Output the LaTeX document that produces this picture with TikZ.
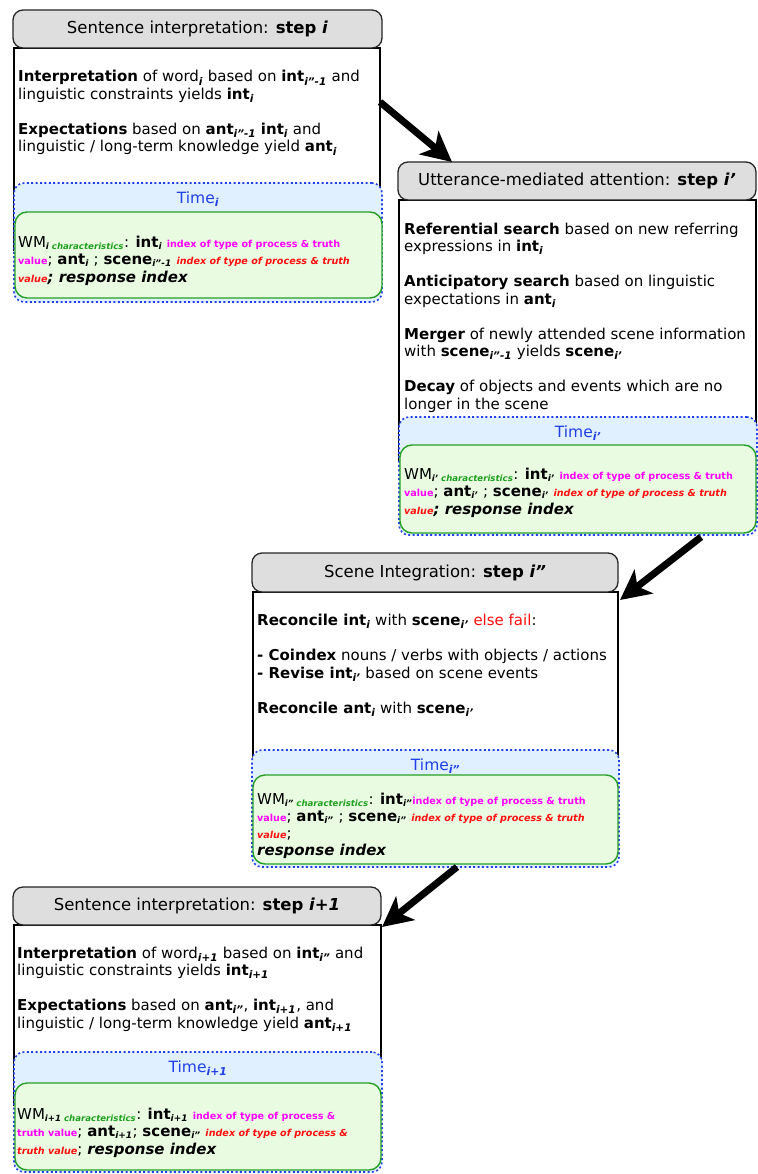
\documentclass[tikz,border=0pt]{standalone}
\usepackage{fontspec}
\setmainfont{DejaVu Sans}
\usetikzlibrary{arrows.meta,calc}

\definecolor{hdrgray}{HTML}{DEDEDE}
\definecolor{timeblue}{HTML}{2040E8}
\definecolor{timefill}{HTML}{E0F0FF}
\definecolor{wmgreen}{HTML}{25A025}
\definecolor{wmfill}{HTML}{E9FCE1}
\definecolor{magx}{HTML}{FF00FF}
\definecolor{redx}{HTML}{FF1010}
\definecolor{chargreen}{HTML}{20A020}

% subscripts and coloured annotations
\newcommand\sbs[1]{\textsubscript{\bfseries\itshape #1}}
\newcommand\wsb[1]{\textsubscript{\fontsize{9}{10}\selectfont\bfseries\itshape #1}}
\newcommand\wmsub[1]{\textsubscript{\fontsize{8.6}{10}\selectfont\bfseries\itshape #1 {\color{chargreen}characteristics}}}
\newcommand\magtxt[1]{{\fontsize{9.6}{10}\selectfont\bfseries\color{magx}#1}}
\newcommand\redtxt[1]{{\fontsize{9.6}{10}\selectfont\bfseries\itshape\color{redx}#1}}

\tikzset{
  x=1pt, y=-1pt,
  hdr/.style={draw=black!85, line width=1.3pt, fill=hdrgray, rounded corners=10pt,
    inner sep=0, outer sep=0, anchor=north west, font=\fontsize{16.5}{19}\selectfont},
  body/.style={draw=black, line width=1.2pt, fill=white, inner sep=0, outer sep=0, anchor=north west},
  timebox/.style={draw=timeblue, dash pattern=on 2pt off 2.4pt, line width=1.6pt, fill=timefill,
    rounded corners=10pt, inner sep=0, outer sep=0, anchor=north west},
  wmbox/.style={draw=wmgreen, line width=1.4pt, fill=wmfill, rounded corners=12pt,
    inner sep=0, outer sep=0, anchor=north west},
  % multi-line texts are placed by the baseline of their last line
  para/.style={anchor=base west, align=left, inner sep=0, font=\fontsize{15}{17.5}\selectfont},
  wmtext/.style={anchor=base west, align=left, inner sep=0, font=\fontsize{15}{17.5}\selectfont},
  timelbl/.style={text=timeblue, font=\fontsize{15.5}{17}\selectfont, inner sep=0},
  flow/.style={line width=7pt, -{Stealth[length=30pt,width=30pt,inset=8pt]}}
}

\begin{document}
\begin{tikzpicture}
\useasboundingbox (0,0) rectangle (757,1174);

% ---------- step i ----------
\node[body, minimum width=366, minimum height=202] (b1) at (14,48) {};
\node[hdr, minimum width=369, minimum height=38] (h1) at (13,10) {Sentence interpretation: \textbf{step \textit{i}}};
\node[timebox, minimum width=368, minimum height=119] (t1) at (14,183) {};
\node[wmbox, minimum width=367, minimum height=86] (w1) at (15,212) {};
\node[timelbl] (tl1) at ($(t1.north)+(0,16)$) {Time\sbs{i}};
\node[para] (p1) at (18,152) {\textbf{Interpretation} of word\sbs{i} based on \textbf{int}\sbs{i”-1} and\\
linguistic constraints yields \textbf{int}\sbs{i}\\[17.5pt]
\textbf{Expectations} based on \textbf{ant}\sbs{i”-1} \textbf{int}\sbs{i} and\\
linguistic / long-term knowledge yield \textbf{ant}\sbs{i}};
\node[wmtext] (m1) at (18,282) {WM\wmsub{i}: \textbf{int}\wsb{i} \magtxt{index of type of process \& truth}\\
\magtxt{value}; \textbf{ant}\wsb{i} ; \textbf{scene}\wsb{i”-1} \redtxt{index of type of process \& truth}\\
\redtxt{value}\textbf{\textit{; response index}}};

% ---------- step i' ----------
\node[body, minimum width=357, minimum height=260] (b2) at (399,200) {};
\node[hdr, minimum width=358, minimum height=38] (h2) at (398,162) {Utterance-mediated attention: \textbf{step \textit{i’}}};
\node[timebox, minimum width=358, minimum height=118] (t2) at (399,417) {};
\node[wmbox, minimum width=356, minimum height=88] (w2) at (400,445) {};
\node[timelbl] (tl2) at ($(t2.north)+(0,16)$) {Time\sbs{i’}};
\node[para] (p2) at (404,409) {\textbf{Referential search} based on new referring\\
expressions in \textbf{int}\sbs{i}\\[17.5pt]
\textbf{Anticipatory search} based on linguistic\\
expectations in \textbf{ant}\sbs{i}\\[17.5pt]
\textbf{Merger} of newly attended scene information\\
with \textbf{scene}\sbs{i”-1} yields \textbf{scene}\sbs{i’}\\[17.5pt]
\textbf{Decay} of objects and events which are no\\
longer in the scene};
\node[wmtext] (m2) at (404,514) {WM\wmsub{i’}: \textbf{int}\wsb{i’} \magtxt{index of type of process \& truth}\\
\magtxt{value}; \textbf{ant}\wsb{i’} ; \textbf{scene}\wsb{i’} \redtxt{index of type of process \& truth}\\
\redtxt{value}\textbf{\textit{; response index}}};

% ---------- step i'' ----------
\node[body, minimum width=365, minimum height=200] (b3) at (253,592) {};
\node[hdr, minimum width=366, minimum height=39] (h3) at (252,553) {Scene Integration: \textbf{step \textit{i”}}};
\node[timebox, minimum width=367, minimum height=117] (t3) at (252,750) {};
\node[wmbox, minimum width=365, minimum height=89] (w3) at (253,775) {};
\node[timelbl] (tl3) at ($(t3.north)+(0,16)$) {Time\sbs{i”}};
\node[para] (p3) at (257,713) {\textbf{Reconcile int}\sbs{i} with \textbf{scene}\sbs{i’} {\color{redx}else fail}:\\[17.5pt]
\textbf{- Coindex} nouns / verbs with objects / actions\\
\textbf{- Revise int}\sbs{i’} based on scene events\\[17.5pt]
\textbf{Reconcile ant}\sbs{i} with \textbf{scene}\sbs{i’}};
\node[wmtext, font=\fontsize{15}{17}\selectfont] (m3) at (257,855) {WM\wmsub{i”}: \textbf{int}\wsb{i”}\magtxt{index of type of process \& truth}\\
\magtxt{value}; \textbf{ant}\wsb{i”} ; \textbf{scene}\wsb{i”} \redtxt{index of type of process \& truth}\\
\redtxt{value};\\
\textbf{\textit{response index}}};

% ---------- step i+1 ----------
\node[body, minimum width=367, minimum height=180] (b4) at (14,925) {};
\node[hdr, minimum width=368, minimum height=38] (h4) at (13,887) {Sentence interpretation: \textbf{step \textit{i+1}}};
\node[timebox, minimum width=368, minimum height=120] (t4) at (14,1052) {};
\node[wmbox, minimum width=366, minimum height=87] (w4) at (15,1083) {};
\node[timelbl] (tl4) at ($(t4.north)+(0,16)$) {Time\sbs{i+1}};
\node[para] (p4) at (17,1028) {\textbf{Interpretation} of word\sbs{i+1} based on \textbf{int}\sbs{i”} and\\
linguistic constraints yields \textbf{int}\sbs{i+1}\\[17.5pt]
\textbf{Expectations} based on \textbf{ant}\sbs{i”}, \textbf{int}\sbs{i+1}, and\\
linguistic / long-term knowledge yield \textbf{ant}\sbs{i+1}};
\node[wmtext] (m4) at (17,1154) {WM\wmsub{i+1}: \textbf{int}\wsb{i+1} \magtxt{index of type of process \&}\\
\magtxt{truth value}; \textbf{ant}\wsb{i+1}; \textbf{scene}\wsb{i”} \redtxt{index of type of process \&}\\
\redtxt{truth value}; \textbf{\textit{response index}}};

% ---------- flow between steps ----------
\draw[flow] ($(b1.north east)+(0,54)$) -- ($(h2.north west)+(54,0)$);
\draw[flow] ($(t2.south east)+(-56,2)$) -- ($(b3.north east)+(2,8)$);
\draw[flow] ($(t3.south west)+(205,0)$) -- ($(h4.south east)+(1,2)$);
\end{tikzpicture}
\end{document}
